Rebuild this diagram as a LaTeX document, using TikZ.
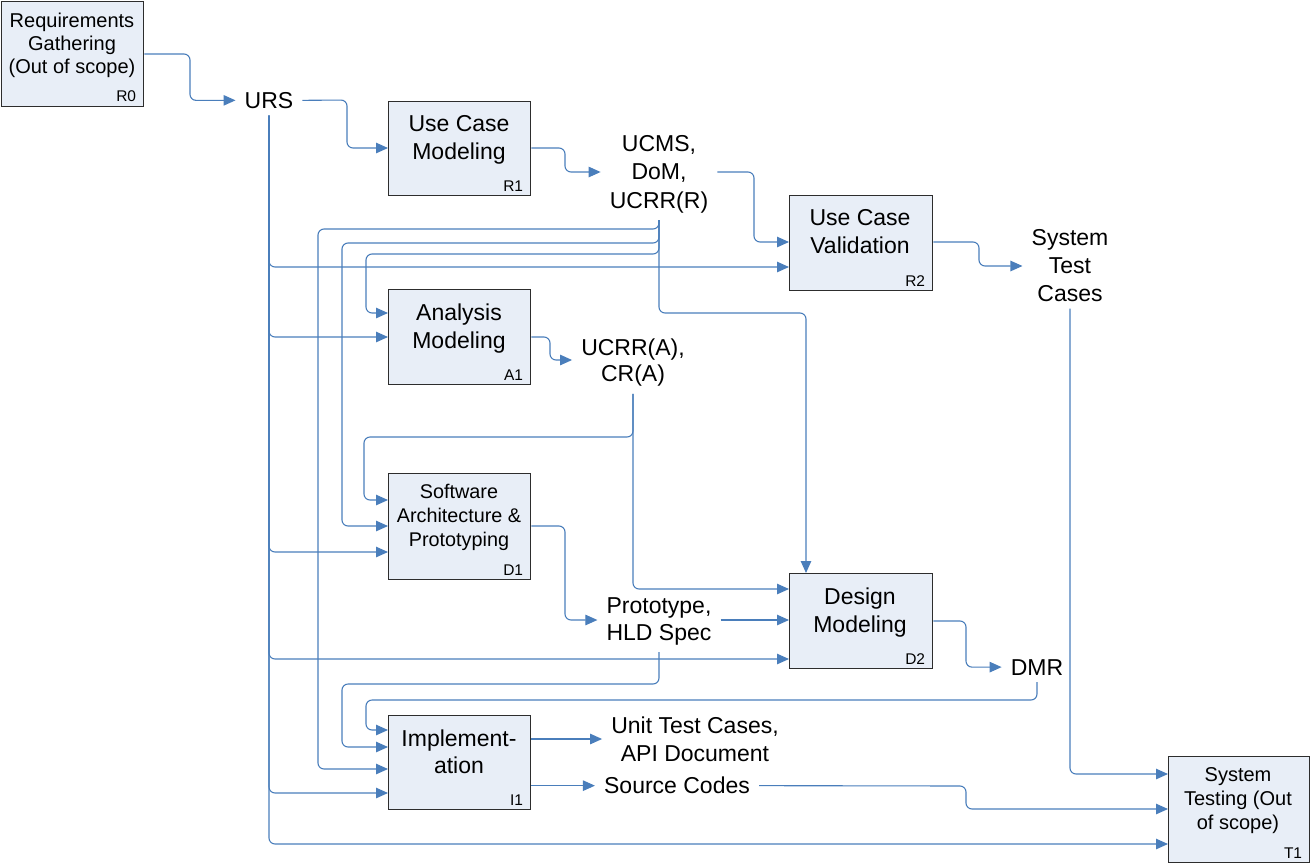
\documentclass[tikz,border=0pt]{standalone}
\usepackage{fontspec}
\setmainfont{Liberation Sans}
\usetikzlibrary{arrows.meta,calc}
\definecolor{lineblue}{RGB}{74,126,187}
\definecolor{boxfill}{RGB}{232,238,247}
\definecolor{boxline}{RGB}{45,45,45}
\tikzset{
  procbox/.style={draw=boxline, fill=boxfill, line width=1.3pt, inner sep=0pt, anchor=north west},
  boxtxt/.style={anchor=north, inner sep=0pt, align=center, font=\fontsize{23}{28}\selectfont},
  idtxt/.style={anchor=south east, inner xsep=8pt, inner ysep=5pt, font=\fontsize{15.5}{17}\selectfont},
  lbl/.style={anchor=north, inner xsep=9pt, inner ysep=7pt, align=center},
  conn/.style={draw=lineblue, line width=1.1pt, rounded corners=6pt, -{Triangle[length=12pt,width=10.5pt]}}
}
\begin{document}
\begin{tikzpicture}[x=1pt,y=-1pt]
\useasboundingbox (0,0) rectangle (1310,863);

% boxes
\node[procbox, minimum width=142pt, minimum height=105pt] (r0) at (1,1) {};
\node[procbox, minimum width=142pt, minimum height=94pt] (r1) at (388,101) {};
\node[procbox, minimum width=143pt, minimum height=95pt] (r2) at (789,195) {};
\node[procbox, minimum width=142pt, minimum height=95pt] (a1) at (388,289) {};
\node[procbox, minimum width=142pt, minimum height=106pt] (d1) at (388,473) {};
\node[procbox, minimum width=143pt, minimum height=95pt] (d2) at (789,573) {};
\node[procbox, minimum width=142pt, minimum height=94pt] (i1) at (388,715) {};
\node[procbox, minimum width=141pt, minimum height=106pt] (t1) at (1168,756) {};

% box texts
\node[boxtxt, font=\fontsize{20}{23}\selectfont] (r0t) at (72,13) {Requirements\\Gathering\\(Out of scope)};
\node[boxtxt] (r1t) at (459,115) {Use Case\\Modeling};
\node[boxtxt] (r2t) at (860,209) {Use Case\\Validation};
\node[boxtxt] (a1t) at (459,304) {Analysis\\Modeling};
\node[boxtxt, font=\fontsize{19.8}{24}\selectfont] (d1t) at (459,484) {Software\\Architecture \&\\Prototyping};
\node[boxtxt] (d2t) at (860,588) {Design\\Modeling};
\node[boxtxt, font=\fontsize{23}{27}\selectfont] (i1t) at (459,730) {Implement-\\ation};
\node[boxtxt, font=\fontsize{20}{24}\selectfont] (t1t) at (1238,767) {System\\Testing (Out\\of scope)};

% ids
\node[idtxt] (r0id) at (r0.south east) {R0};
\node[idtxt] (r1id) at (r1.south east) {R1};
\node[idtxt] (r2id) at (r2.south east) {R2};
\node[idtxt] (a1id) at (a1.south east) {A1};
\node[idtxt] (d1id) at (d1.south east) {D1};
\node[idtxt] (d2id) at (d2.south east) {D2};
\node[idtxt] (i1id) at (i1.south east) {I1};
\node[idtxt] (t1id) at (t1.south east) {T1};

% labels
\node[lbl, font=\fontsize{23}{28}\selectfont] (urs) at (269,85) {URS};
\node[lbl, font=\fontsize{23}{28.5}\selectfont] (ucms) at (659,128) {UCMS,\\DoM,\\UCRR(R)};
\node[lbl, font=\fontsize{23}{28}\selectfont] (stc) at (1070,222) {System\\Test\\Cases};
\node[lbl, font=\fontsize{23}{26}\selectfont] (ucrra) at (633,332) {UCRR(A),\\CR(A)};
\node[lbl, font=\fontsize{23}{27}\selectfont] (proto) at (659,590) {Prototype,\\HLD Spec};
\node[lbl, font=\fontsize{23}{28}\selectfont] (dmr) at (1037,652) {DMR};
\node[lbl, font=\fontsize{23}{28}\selectfont] (utc) at (695,710) {Unit Test Cases,\\API Document};
\node[lbl, font=\fontsize{23}{28}\selectfont] (sc) at (677,770) {Source Codes};

% main flow
\draw[conn] (r0.east |- 0,54) -- (190,54) |- (urs.west);
\draw[conn] (urs.east) -- (347,100) |- (r1.west |- 0,148);
\draw[conn] (r1.east |- 0,148) -- (565,148) |- (ucms.west |- 0,172);
\draw[conn] (ucms.east |- 0,172) -- (754,172) |- (r2.west |- 0,242);
\draw[conn] (r2.east |- 0,242) -- (979,242) |- (stc.west |- 0,266);
\draw[conn] (stc.south) |- (t1.west |- 0,774);

% URS branches
\draw[conn] (urs.south) |- (r2.west |- 0,267);
\draw[conn] (urs.south) |- (a1.west |- 0,337);
\draw[conn] (urs.south) |- (d1.west |- 0,552);
\draw[conn] (urs.south) |- (d2.west |- 0,659);
\draw[conn] (urs.south) |- (i1.west |- 0,793);
\draw[conn] (urs.south) |- (t1.west |- 0,844);

% UCRR(R) branches
\draw[conn] (ucms.south) |- (318,229) |- (i1.west |- 0,769);
\draw[conn] (ucms.south) |- (342,243) |- (d1.west |- 0,526);
\draw[conn] (ucms.south) |- (366,254) |- (a1.west |- 0,313);
\draw[conn] (ucms.south) |- (806,313) -- (d2.north -| 806,0);

% A1 outputs
\draw[conn] (a1.east |- 0,337) -- (550,337) |- (ucrra.west |- 0,360);
\draw[conn] (ucrra.south) |- (364,437) |- (d1.west |- 0,500);
\draw[conn] (ucrra.south) |- (d2.west |- 0,589);

% D1 outputs
\draw[conn] (d1.east |- 0,526) -- (565,526) |- (proto.west |- 0,620);
\draw[conn] (proto.east |- 0,620) -- (d2.west |- 0,620);
\draw[conn] (proto.south) |- (342,684) |- (i1.west |- 0,747);

% D2 outputs
\draw[conn] (d2.east |- 0,621) -- (966,621) |- (dmr.west);
\draw[conn] (dmr.south) |- (366,700) |- (i1.west |- 0,730);

% I1 outputs
\draw[conn] (i1.east |- 0,739) -- (utc.west |- 0,739);
\draw[conn] (i1.east |- sc.west) -- (sc.west);
\draw[conn] (sc.east) -- (966,786) |- (t1.west |- 0,809);
\end{tikzpicture}
\end{document}
